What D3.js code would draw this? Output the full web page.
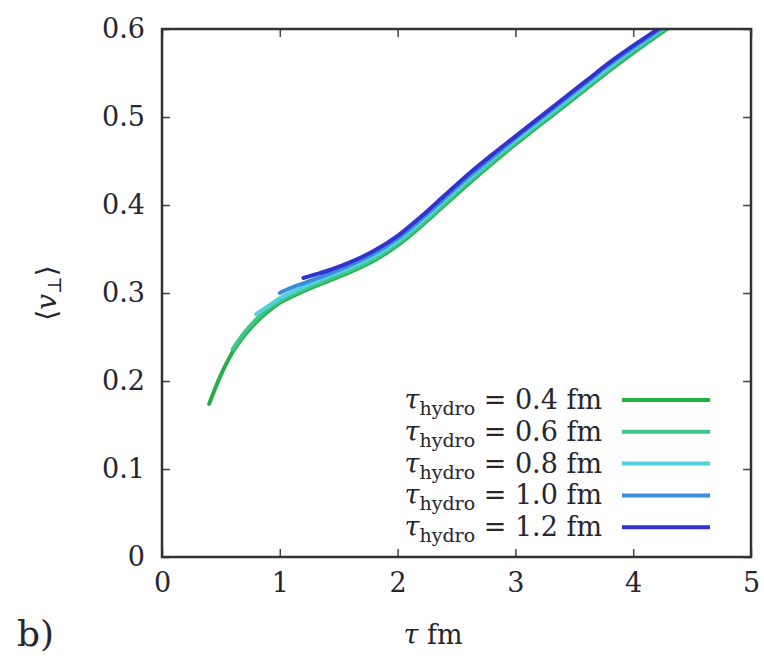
<!DOCTYPE html>
<html>
<head>
<meta charset="utf-8">
<script src="https://cdn.jsdelivr.net/npm/d3@7"></script>
<style>
  body { margin: 0; background: #fff; }
  text, tspan { font-family: "DejaVu Serif", "Liberation Serif", serif !important; }
</style>
</head>
<body>
<div id="wrapper"></div>
<script>
// tau_hydro start times and curve colours
const tauHydro = ["0.4", "0.6", "0.8", "1.0", "1.2"];
const colors = ["#27b04a", "#3fc789", "#52d0dc", "#3b8ddb", "#3232cc"];

// <v_perp> vs tau
const curve04 = [[0.4,0.174],[0.5,0.207],[0.6,0.233],[0.7,0.252],[0.8,0.267],[0.9,0.279],[1.0,0.289],[1.2,0.302],[1.4,0.313],[1.6,0.324],[1.8,0.337],[2.0,0.354],[2.2,0.376],[2.4,0.400],[2.6,0.424],[2.8,0.447],[3.0,0.469],[3.2,0.490],[3.4,0.511],[3.6,0.532],[3.8,0.553],[4.0,0.573],[4.35,0.606]];
const curve06 = [[0.6,0.236],[0.7,0.255],[0.8,0.270],[0.9,0.282],[1.0,0.291],[1.2,0.304],[1.4,0.315],[1.6,0.326],[1.8,0.339],[2.0,0.356],[2.2,0.378],[2.4,0.402],[2.6,0.426],[2.8,0.449],[3.0,0.471],[3.2,0.492],[3.4,0.513],[3.6,0.534],[3.8,0.555],[4.0,0.575],[4.33,0.606]];
const curve08 = [[0.8,0.276],[0.9,0.285],[1.0,0.294],[1.2,0.307],[1.4,0.318],[1.6,0.329],[1.8,0.342],[2.0,0.359],[2.2,0.381],[2.4,0.405],[2.6,0.429],[2.8,0.452],[3.0,0.473],[3.2,0.494],[3.4,0.515],[3.6,0.536],[3.8,0.557],[4.0,0.577],[4.31,0.606]];
const curve10 = [[1.0,0.300],[1.1,0.306],[1.2,0.311],[1.4,0.321],[1.6,0.332],[1.8,0.345],[2.0,0.362],[2.2,0.384],[2.4,0.408],[2.6,0.432],[2.8,0.454],[3.0,0.476],[3.2,0.497],[3.4,0.518],[3.6,0.539],[3.8,0.560],[4.0,0.579],[4.3,0.606]];
const curve12 = [[1.2,0.317],[1.3,0.321],[1.4,0.325],[1.6,0.335],[1.8,0.348],[2.0,0.365],[2.2,0.387],[2.4,0.411],[2.6,0.435],[2.8,0.457],[3.0,0.478],[3.2,0.499],[3.4,0.520],[3.6,0.541],[3.8,0.562],[4.0,0.581],[4.28,0.606]];
const curves = [curve04, curve06, curve08, curve10, curve12];

const xTicks = [0, 1, 2, 3, 4, 5];
const yTicks = [0, 0.1, 0.2, 0.3, 0.4, 0.5, 0.6];

const dimension = {
    width: 764,
    height: 658,
    margin: { top: 29, left: 162, bottom: 101, right: 13 }
};
dimension.boundedWidth = dimension.width - dimension.margin.left - dimension.margin.right;
dimension.boundedHeight = dimension.height - dimension.margin.top - dimension.margin.bottom;

const svg = d3.select("#wrapper").append("svg")
    .attr("width", dimension.width)
    .attr("height", dimension.height);

const bounded = svg.append("g")
    .attr("transform", `translate(${dimension.margin.left},${dimension.margin.top})`);

const xScaler = d3.scaleLinear().domain([0, 5]).range([0, dimension.boundedWidth]);
const yScaler = d3.scaleLinear().domain([0, 0.6]).range([dimension.boundedHeight, 0]);

bounded.append("clipPath").attr("id", "clip")
    .append("rect")
    .attr("width", dimension.boundedWidth)
    .attr("height", dimension.boundedHeight);

const lineGenerator = d3.line()
    .x(d => xScaler(d[0]))
    .y(d => yScaler(d[1]))
    .curve(d3.curveCatmullRom);

bounded.append("g").attr("clip-path", "url(#clip)")
    .selectAll("path")
    .data(curves)
    .join("path")
    .attr("d", lineGenerator)
    .attr("fill", "none")
    .attr("stroke", (d, i) => colors[i])
    .attr("stroke-width", 4)
    .attr("stroke-linecap", "round");

// axes: ticks inside, mirrored on all four sides
const tickLen = 8;
const styleAxis = g => {
    g.select(".domain").remove();
    g.selectAll(".tick line").attr("stroke", "#444").attr("stroke-width", 1.5);
    g.selectAll(".tick text")
        .style("font-size", "27px")
        .attr("fill", "#262630");
};

bounded.append("g")
    .attr("transform", `translate(0,${dimension.boundedHeight})`)
    .call(d3.axisBottom(xScaler).tickValues(xTicks).tickFormat(d3.format("d"))
        .tickSizeInner(-tickLen).tickSizeOuter(0).tickPadding(16))
    .call(styleAxis);
bounded.append("g")
    .call(d3.axisTop(xScaler).tickValues(xTicks).tickFormat("")
        .tickSizeInner(-tickLen).tickSizeOuter(0))
    .call(styleAxis);
bounded.append("g")
    .call(d3.axisLeft(yScaler).tickValues(yTicks).tickFormat(d => d === 0 ? "0" : d3.format(".1f")(d))
        .tickSizeInner(-tickLen).tickSizeOuter(0).tickPadding(17))
    .call(styleAxis);
bounded.append("g")
    .attr("transform", `translate(${dimension.boundedWidth},0)`)
    .call(d3.axisRight(yScaler).tickValues(yTicks).tickFormat("")
        .tickSizeInner(-tickLen).tickSizeOuter(0))
    .call(styleAxis);

bounded.append("rect")
    .attr("width", dimension.boundedWidth)
    .attr("height", dimension.boundedHeight)
    .attr("fill", "none")
    .attr("stroke", "#333")
    .attr("stroke-width", 2.5);

// legend
const legend = bounded.append("g")
    .attr("transform", `translate(${dimension.boundedWidth - 278},${yScaler(0.1) - 69})`);
const rows = legend.selectAll("g")
    .data(tauHydro)
    .join("g")
    .attr("transform", (d, i) => `translate(0,${i * 31.8})`);
rows.append("line")
    .attr("x1", 149).attr("x2", 237)
    .attr("y1", 0).attr("y2", 0)
    .attr("stroke", (d, i) => colors[i])
    .attr("stroke-width", 4);
const ltext = rows.append("text")
    .attr("x", 129)
    .attr("y", 9)
    .attr("text-anchor", "end")
    .attr("fill", "#262630")
    .style("font-size", "27px");
ltext.append("tspan").style("font-style", "italic").text("τ");
ltext.append("tspan").attr("dy", 6).style("font-size", "19px").text("hydro");
ltext.append("tspan").attr("dy", -6).text(d => ` = ${d} fm`);

// axis labels
const ylab = svg.append("text")
    .attr("transform", `translate(56,${dimension.margin.top + yScaler(0.3)}) rotate(-90)`)
    .attr("text-anchor", "middle")
    .attr("fill", "#262630")
    .style("font-size", "28px");
ylab.append("tspan").text("⟨");
ylab.append("tspan").style("font-style", "italic").text("v");
ylab.append("tspan").attr("dy", 5).style("font-size", "19px").text("⊥");
ylab.append("tspan").attr("dy", -5).text("⟩");

const xlab = svg.append("text")
    .attr("x", dimension.margin.left + xScaler(2.3))
    .attr("y", 644)
    .attr("text-anchor", "middle")
    .attr("fill", "#262630")
    .style("font-size", "27px");
xlab.append("tspan").style("font-style", "italic").text("τ");
xlab.append("tspan").text(" fm");

svg.append("text")
    .attr("x", 17)
    .attr("y", 646)
    .attr("fill", "#262630")
    .style("font-size", "36px")
    .text("b)");
</script>
</body>
</html>
